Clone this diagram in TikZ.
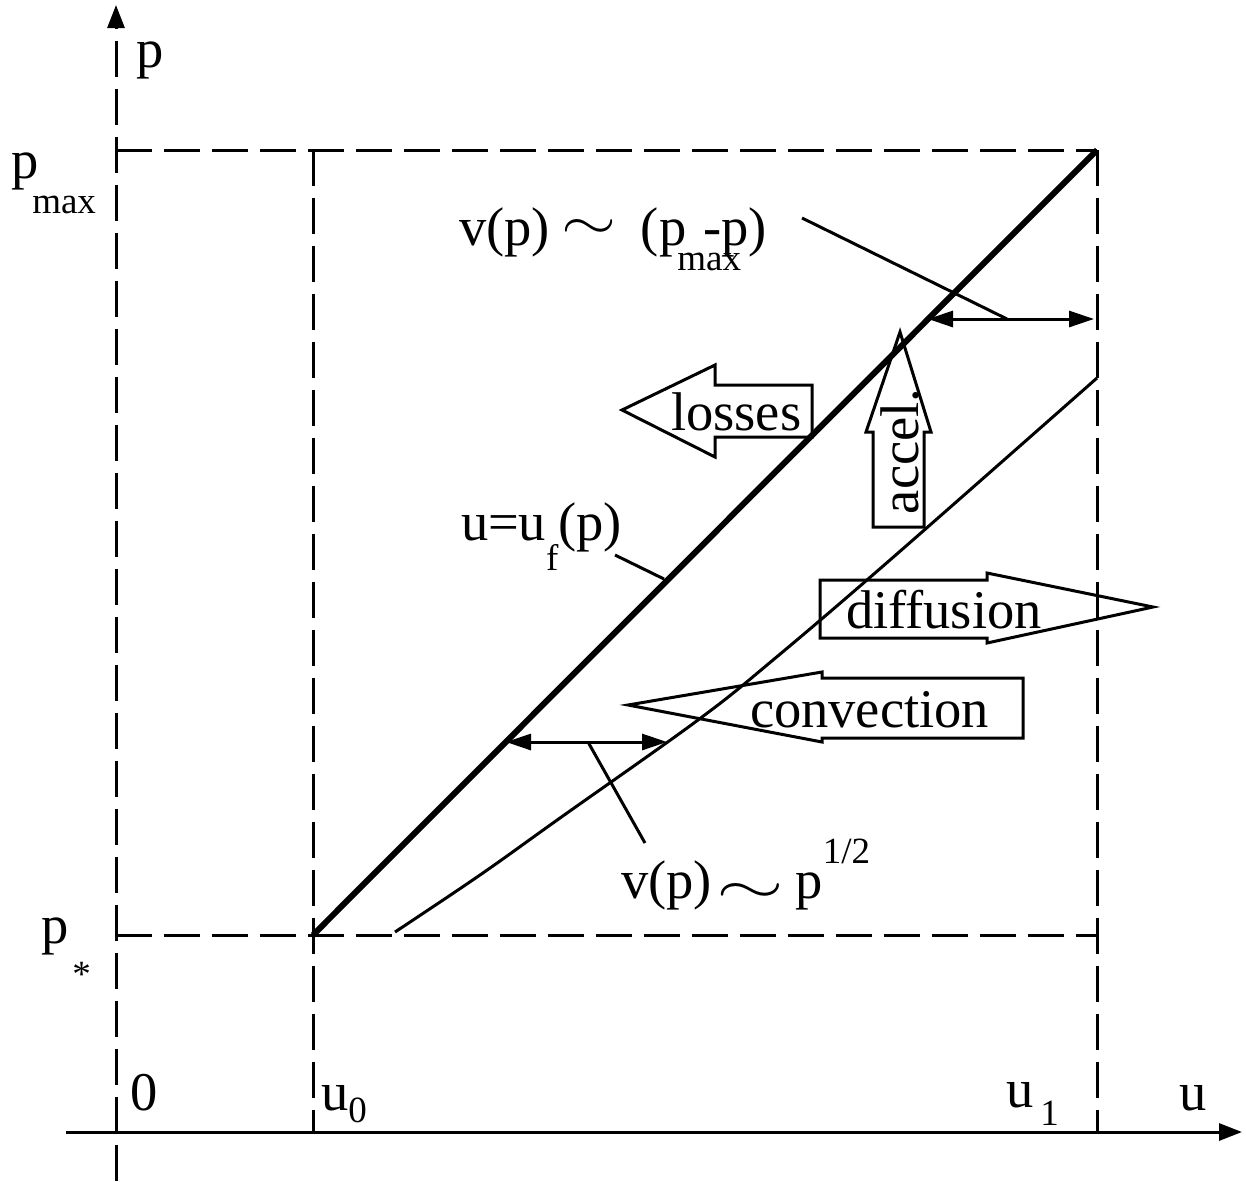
\RequirePackage{fix-cm}
\documentclass[tikz,border=0pt]{standalone}
\usepackage{graphicx}
\usepackage{fontspec}
\setmainfont{Liberation Serif}
\usetikzlibrary{arrows.meta}
\newcommand\lowr[2]{\raisebox{-#1}{\fontsize{37}{40}\selectfont #2}}
\newcommand\highr[2]{\raisebox{#1}{\fontsize{37}{40}\selectfont #2}}
\newcommand\simsym[2]{\raisebox{#2}{\scalebox{#1}[1]{$\sim$}}}
\begin{document}
\begin{tikzpicture}[x=1pt,y=-1pt,
  lbl/.style={inner sep=0pt, outer sep=0pt, anchor=base west, font=\fontsize{54.5}{60}\selectfont},
  dline/.style={line width=3pt, dash pattern=on 36pt off 12pt},
  thinline/.style={line width=3pt},
  thickline/.style={line width=6pt},
  axistip/.style={-{Triangle[length=23pt,width=17pt]}},
  dimarrow/.style={line width=3pt, {Triangle[length=25pt,width=16pt]}-{Triangle[length=25pt,width=16pt]}},
  blockarrow/.style={line width=3pt, line join=miter}]
\useasboundingbox (0,0) rectangle (1246,1181);
% key points
\coordinate (pbot) at (116,1181);
\coordinate (ptop) at (116,5);
\coordinate (uleft) at (66,1132);
\coordinate (uright) at (1242,1132);
\coordinate (pmaxL) at (116,150);
\coordinate (pmaxR) at (1097,150);
\coordinate (u0top) at (313,150);
\coordinate (u0bot) at (313,1132);
\coordinate (u1bot) at (1097,1132);
\coordinate (pstarL) at (116,935);
\coordinate (pstarR) at (1097,935);
\coordinate (start) at (313,935);
% axes
\draw[dline, axistip] (pbot) -- (ptop);
\draw[thinline, axistip] (uleft) -- (uright);
% dashed frame
\draw[dline] (pmaxL) -- (pmaxR);
\draw[dline] (u0top) -- (u0bot);
\draw[dline] (pmaxR) -- (u1bot);
\draw[dline] (pstarL) -- (pstarR);
% u = u_f(p)
\draw[thickline] (start) -- (pmaxR);
% thin curve
\draw[thinline] plot[smooth, tension=0.6] coordinates {(395,932) (480,875) (560,818) (698,720) (773,660) (890,560) (1097,378)};
% dimension arrows
\coordinate (d1a) at (928,319);
\coordinate (d1b) at (1094,319);
\coordinate (d1m) at (1007,319);
\coordinate (l1) at (802,218);
\draw[dimarrow] (d1a) -- (d1b);
\draw[thinline] (l1) -- (d1m);
\coordinate (d2a) at (506,742);
\coordinate (d2b) at (667,742);
\coordinate (d2m) at (588,742);
\coordinate (l2) at (645,843);
\draw[dimarrow] (d2a) -- (d2b);
\draw[thinline] (d2m) -- (l2);
\coordinate (l3a) at (615,555);
\coordinate (l3b) at (664,579);
\draw[thinline] (l3a) -- (l3b);
% block arrows
\draw[blockarrow] (622,410) -- (715,365) -- (715,385) -- (812,385) -- (812,437) -- (715,437) -- (715,457) -- cycle;
\draw[blockarrow] (900,332) -- (931,432) -- (924,432) -- (924,527) -- (873,527) -- (873,432) -- (866,432) -- cycle;
\draw[blockarrow] (820,580) -- (987,580) -- (987,573) -- (1153,607) -- (987,643) -- (987,638) -- (820,638) -- cycle;
\draw[blockarrow] (628,705) -- (822,672) -- (822,678) -- (1023,678) -- (1023,738) -- (822,738) -- (822,742) -- cycle;
% labels
\node[lbl] (plab) at (136,67) {p};
\node[lbl] (pmaxlab) at (11,178) {p\kern-6pt\lowr{35pt}{max}};
\node[lbl] (pstarlab) at (41,943) {p\kern4pt\lowr{43pt}{*}};
\node[lbl] (zerolab) at (130,1110) {0};
\node[lbl] (u0lab) at (321,1110) {u\lowr{12pt}{0}};
\node[lbl] (u1lab) at (1006,1107) {u\kern7pt\lowr{18pt}{1}};
\node[lbl] (ulab) at (1179,1110) {u};
\node[lbl] (vmaxlab) at (459,245) {v(p)\kern12pt\simsym{1.3}{6pt}\kern24pt(p\kern-9pt\lowr{25pt}{max}\kern-38pt-p)};
\node[lbl] (vsqlab) at (621,898) {v(p)\kern5pt\simsym{1.6}{-5pt}\kern11pt p\highr{35pt}{1/2}};
\node[lbl] (uflab) at (461,540) {u=u\lowr{30pt}{f}(p)};
\node[lbl] (losseslab) at (671,430) {losses};
\node[lbl, rotate=90] (accellab) at (918,514) {accel.};
\node[lbl] (difflab) at (846,628) {diffusion};
\node[lbl] (convlab) at (750,727) {convection};
\end{tikzpicture}
\end{document}
